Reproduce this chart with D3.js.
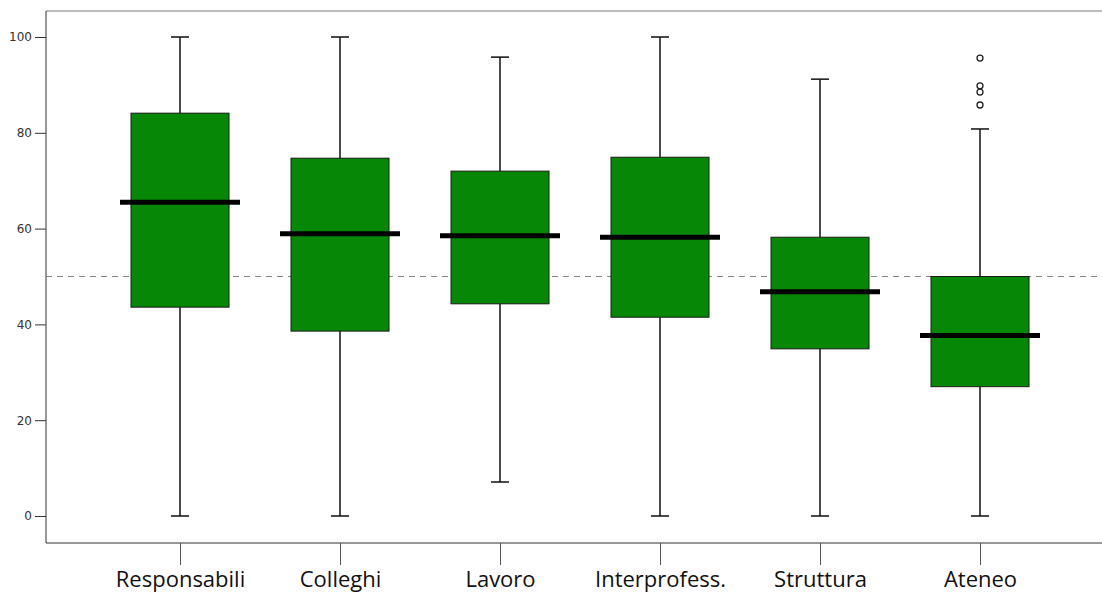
<!DOCTYPE html>
<html>
<head>
    <meta charset="utf-8" />
    <title>Boxplot</title>
    <script src="https://d3js.org/d3.v7.min.js"></script>
    <style>
        body { margin: 0; background: #fff; }
        svg { display: block; }
        .yaxis text { font-size: 12px; fill: #333; font-family: "DejaVu Sans", sans-serif; }
        .xaxis text { font-size: 22px; fill: #111; font-family: "Open Sans", "Noto Sans", sans-serif; }
    </style>
</head>
<body>
    <div id="chart"></div>
    <script>
        // values
        const categories = ["Responsabili", "Colleghi", "Lavoro", "Interprofess.", "Struttura", "Ateneo"];
        const mins    = [0, 0, 7.1, 0, 0, 0];
        const q1s     = [43.6, 38.6, 44.3, 41.5, 34.9, 27.0];
        const medians = [65.5, 58.9, 58.5, 58.2, 46.8, 37.7];
        const q3s     = [84.1, 74.7, 72.0, 74.9, 58.2, 50.0];
        const maxs    = [100, 100, 95.8, 100, 91.2, 80.8];
        const outliers = [[], [], [], [], [], [95.6, 89.8, 88.5, 85.8]];
        const yTicks = [0, 20, 40, 60, 80, 100];
        const refValue = 50;

        const width = 1102, height = 594;
        const plotLeft = 46, plotRight = 1102, plotTop = 11, plotBottom = 543;

        const boxes = categories.map((c, i) => ({
            name: c, min: mins[i], q1: q1s[i], med: medians[i], q3: q3s[i], max: maxs[i], out: outliers[i]
        }));

        const svg = d3.select("#chart").append("svg")
            .attr("width", width)
            .attr("height", height);

        const y = d3.scaleLinear().domain([0, 100]).range([516, 37]);
        const x = d3.scalePoint().domain(categories).range([180, 980]);
        const boxW = 98, medW = 120, capW = 18;

        // frame
        svg.append("line").attr("x1", plotLeft).attr("x2", plotRight).attr("y1", plotTop).attr("y2", plotTop)
            .attr("stroke", "#777").attr("stroke-width", 1);
        svg.append("line").attr("x1", plotLeft).attr("x2", plotRight).attr("y1", plotBottom).attr("y2", plotBottom)
            .attr("stroke", "#333").attr("stroke-width", 1);
        svg.append("line").attr("x1", plotLeft).attr("x2", plotLeft).attr("y1", plotTop).attr("y2", plotBottom)
            .attr("stroke", "#333").attr("stroke-width", 1);

        // y axis
        const yAxis = svg.append("g")
            .attr("class", "yaxis")
            .attr("transform", `translate(${plotLeft},0)`)
            .call(d3.axisLeft(y).tickValues(yTicks).tickSize(11).tickPadding(3));
        yAxis.select(".domain").remove();
        yAxis.selectAll(".tick line").attr("stroke", "#333");

        // x axis
        const xAxis = svg.append("g")
            .attr("class", "xaxis")
            .attr("transform", `translate(0,${plotBottom})`)
            .call(d3.axisBottom(x).tickSize(22).tickPadding(8));
        xAxis.select(".domain").remove();
        xAxis.selectAll(".tick line").attr("stroke", "#555");
        xAxis.selectAll(".tick text").attr("dy", null).attr("y", 44);

        // reference line at 50
        svg.append("line")
            .attr("x1", plotLeft).attr("x2", plotRight)
            .attr("y1", y(refValue)).attr("y2", y(refValue))
            .attr("stroke", "#888").attr("stroke-dasharray", "6,5");

        const g = svg.selectAll(".box").data(boxes).enter().append("g").attr("class", "box");

        // whiskers
        g.append("line")
            .attr("x1", d => x(d.name)).attr("x2", d => x(d.name))
            .attr("y1", d => y(d.max)).attr("y2", d => y(d.q3))
            .attr("stroke", "#111").attr("stroke-width", 1.5);
        g.append("line")
            .attr("x1", d => x(d.name)).attr("x2", d => x(d.name))
            .attr("y1", d => y(d.q1)).attr("y2", d => y(d.min))
            .attr("stroke", "#111").attr("stroke-width", 1.5);
        g.append("line")
            .attr("x1", d => x(d.name) - capW / 2).attr("x2", d => x(d.name) + capW / 2)
            .attr("y1", d => y(d.max)).attr("y2", d => y(d.max))
            .attr("stroke", "#111").attr("stroke-width", 1.5);
        g.append("line")
            .attr("x1", d => x(d.name) - capW / 2).attr("x2", d => x(d.name) + capW / 2)
            .attr("y1", d => y(d.min)).attr("y2", d => y(d.min))
            .attr("stroke", "#111").attr("stroke-width", 1.5);

        // boxes
        g.append("rect")
            .attr("x", d => x(d.name) - boxW / 2)
            .attr("width", boxW)
            .attr("y", d => y(d.q3))
            .attr("height", d => y(d.q1) - y(d.q3))
            .attr("fill", "#068706")
            .attr("stroke", "#1a1a1a").attr("stroke-width", 1);

        // medians
        g.append("line")
            .attr("x1", d => x(d.name) - medW / 2).attr("x2", d => x(d.name) + medW / 2)
            .attr("y1", d => y(d.med)).attr("y2", d => y(d.med))
            .attr("stroke", "#000").attr("stroke-width", 5);

        // outliers
        g.selectAll("circle").data(d => d.out.map(v => ({ name: d.name, v: v }))).enter().append("circle")
            .attr("cx", d => x(d.name)).attr("cy", d => y(d.v))
            .attr("r", 3)
            .attr("fill", "#fff").attr("stroke", "#222").attr("stroke-width", 1.3);
    </script>
</body>
</html>
